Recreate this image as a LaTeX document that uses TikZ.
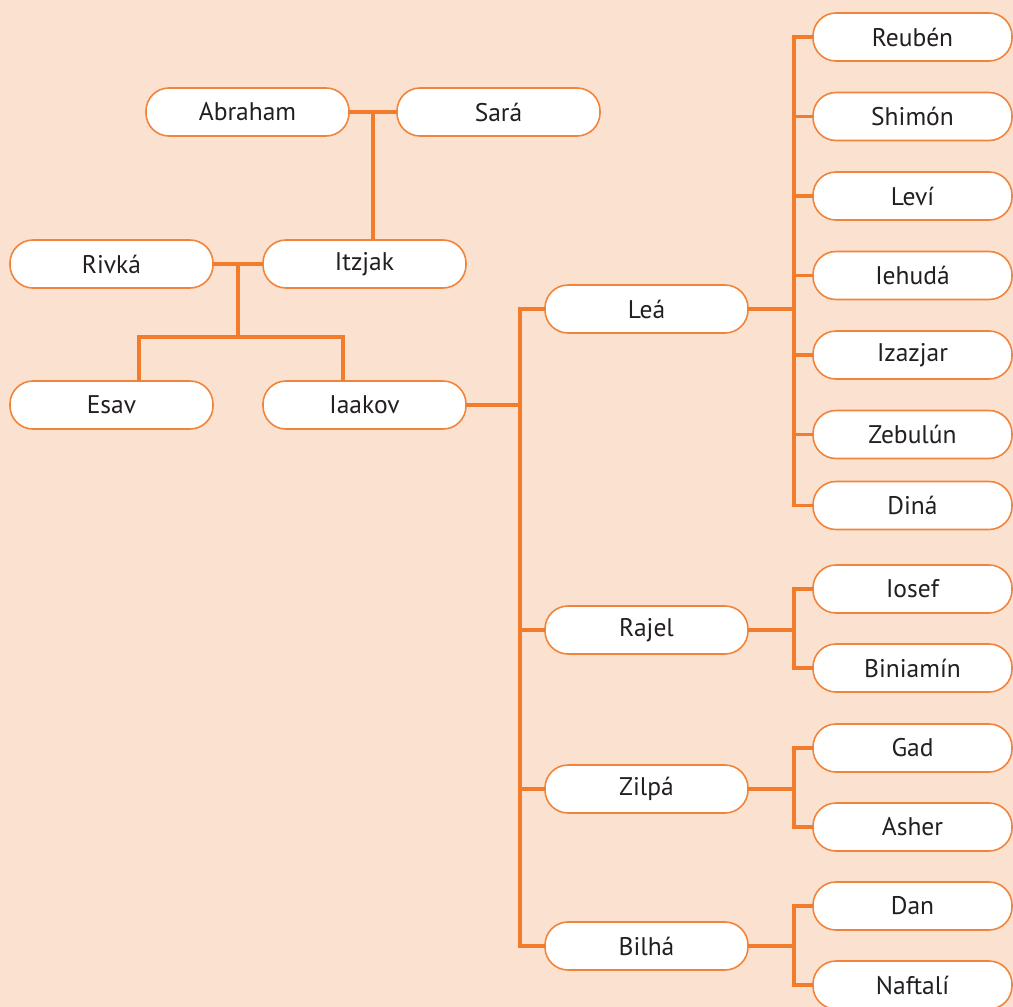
\documentclass[tikz,border=0pt]{standalone}
\usepackage{fontspec}
\setmainfont{PT Sans}
\usetikzlibrary{positioning}
\definecolor{peach}{HTML}{FBE2D0}
\definecolor{tangerine}{HTML}{F07C2C}
\definecolor{rim}{HTML}{F1843A}
\definecolor{ink}{HTML}{231F20}

\tikzset{
	person/.style={draw=rim, line width=1.6pt, fill=white, rounded corners=23pt,
		minimum width=203pt, minimum height=48pt, inner sep=0pt, outer sep=0pt,
		text=ink, font=\fontsize{25.5}{30}\selectfont},
	son/.style={person, minimum width=199pt},
	link/.style={draw=tangerine, line width=3.2pt},
}

\begin{document}
\begin{tikzpicture}[x=1pt, y=-1pt, node distance=31.5pt]
	\fill[peach] (0,0) rectangle (1013,1007);
	\useasboundingbox (0,0) rectangle (1013,1007);
	%
	\node[person] (abraham) at (247.5,112) {Abraham};
	\node[person, right=48pt of abraham] (sara) {Sará};
	\node[person] (rivka) at (111.5,264) {Rivká};
	\node[person, right=50pt of rivka] (itzjak) {Itzjak};
	\node[person] (esav) at (111.5,405) {Esav};
	\node[person, right=50pt of esav] (iaakov) {Iaakov};
	%
	\node[person] (lea) at (646.5,309) {Leá};
	\node[person] (rajel) at (646.5,630) {Rajel};
	\node[person] (zilpa) at (646.5,789) {Zilpá};
	\node[person] (bilha) at (646.5,946) {Bilhá};
	%
	\node[son] (reuben) at (912.5,37) {Reubén};
	\node[son, below=of reuben] (shimon) {Shimón};
	\node[son, below=of shimon] (levi) {Leví};
	\node[son, below=of levi] (iehuda) {Iehudá};
	\node[son, below=of iehuda] (izazjar) {Izazjar};
	\node[son, below=of izazjar] (zebulun) {Zebulún};
	\node[son, below=23pt of zebulun] (dina) {Diná};
	\node[son] (iosef) at (912.5,589) {Iosef};
	\node[son, below=31pt of iosef] (biniamin) {Biniamín};
	\node[son] (gad) at (912.5,748) {Gad};
	\node[son, below=31pt of gad] (asher) {Asher};
	\node[son] (dan) at (912.5,906) {Dan};
	\node[son, below=31pt of dan] (naftali) {Naftalí};
	%
	\coordinate (ab) at (373,112);
	\coordinate (ri) at (238,264);
	\coordinate (rileft) at (139,337);
	\coordinate (riright) at (343,337);
	\coordinate (ia) at (520,405);
	\coordinate (leabus) at (794,309);
	%
	\draw[link] (abraham) -- (sara);
	\draw[link] (ab) -- (ab |- itzjak.north);
	\draw[link] (rivka) -- (itzjak);
	\draw[link] (ri) -- (ri |- rileft);
	\draw[link] (esav.north -| rileft) -- (rileft) -- (riright) -- (iaakov.north -| riright);
	\draw[link] (iaakov.east) -- (ia);
	\foreach \w in {lea,rajel,zilpa,bilha}
		\draw[link] (ia) |- (\w);
	\draw[link] (lea) -- (leabus);
	\foreach \s in {reuben,shimon,levi,iehuda,izazjar,zebulun,dina}
		\draw[link] (leabus) |- (\s);
	\foreach \m/\a/\b in {rajel/iosef/biniamin, zilpa/gad/asher, bilha/dan/naftali} {
		\coordinate (\m bus) at (\m.east -| leabus);
		\draw[link] (\m) -- (\m bus);
		\draw[link] (\m bus) |- (\a);
		\draw[link] (\m bus) |- (\b);
	}
\end{tikzpicture}
\end{document}
